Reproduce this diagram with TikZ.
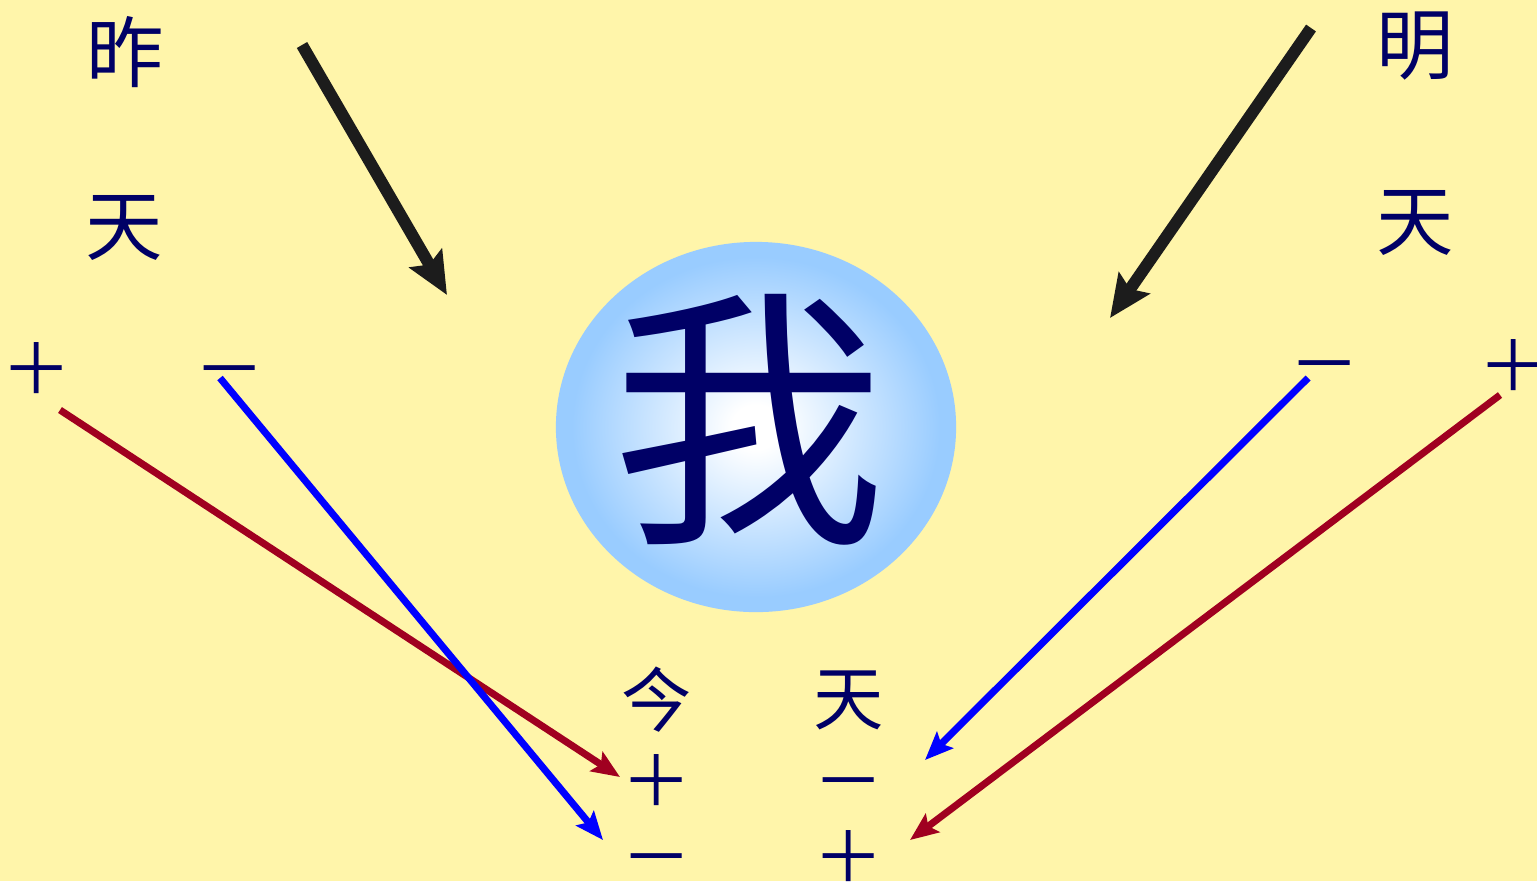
\documentclass[tikz,border=0pt]{standalone}
\usepackage{fontspec}
\newfontfamily\cjk{Noto Sans CJK SC}
\usepackage{tikz}
\usetikzlibrary{arrows.meta,shapes.geometric}
\definecolor{paper}{HTML}{FFF5AA}
\definecolor{ink}{HTML}{000066}
\definecolor{sky}{HTML}{99CCFF}
\definecolor{wine}{HTML}{A00020}
\definecolor{pureblue}{HTML}{0000FF}
\definecolor{coal}{HTML}{1C1C1C}
\pgfdeclareradialshading{ballshade}{\pgfpoint{0bp}{0bp}}{color(0bp)=(white);
color(3bp)=(white); color(23bp)=(sky); color(50bp)=(sky)}

\begin{document}
\begin{tikzpicture}[
x=0.01cm,y=-0.01cm,
word/.style={text=ink,inner sep=0pt,font=\cjk\fontsize{22}{24}\selectfont},
small/.style={text=ink,inner sep=0pt,font=\cjk\fontsize{20}{22}\selectfont},
sign/.style={text=ink,inner sep=0pt,font=\cjk\fontsize{20}{22}\selectfont},
time/.style={-{Stealth[length=12pt,width=10.5pt,inset=2pt]},line width=3.4pt,
draw=coal},
plus/.style={-{Stealth[length=8pt,width=6.5pt,inset=1.5pt]},line width=2pt,
draw=wine},
minus/.style={-{Stealth[length=8pt,width=6.5pt,inset=1.5pt]},line width=2pt,
draw=pureblue}
]
\fill[paper] (0,0) rectangle (1537,881);
\useasboundingbox (0,0) rectangle (1537,881);

% the self in the middle
\node[ellipse,shading=ballshade,minimum width=4cm,minimum height=3.7cm,
inner sep=0pt] (me) at (756,427) {};
\node[text=ink,font=\cjk\fontsize{78}{80}\selectfont] (wo) at (749,420) {我};

% yesterday
\node[word] (zuo)  at (125,52)  {昨};
\node[word] (tian1) at (124,228) {天};
\node[sign] (zp) at (37,368)  {＋};
\node[sign] (zm) at (230,380) {－};

% tomorrow
\node[word] (ming) at (1415,46)  {明};
\node[word] (tian2) at (1415,223) {天};
\node[sign] (mm) at (1325,375) {－};
\node[sign] (mp) at (1514,365) {＋};

% today
\node[small] (jin)   at (657,700) {今};
\node[small] (tian3) at (849,700) {天};
\node[sign] (jp) at (657,780) {＋};
\node[sign] (jm) at (657,868) {－};
\node[sign] (tm) at (849,792) {－};
\node[sign] (tp) at (849,856) {＋};

% arrow ends
\coordinate (a1) at (302,45);   \coordinate (b1) at (447,295);
\coordinate (a2) at (1311,28);  \coordinate (b2) at (1110,318);
\coordinate (a3) at (60,410);   \coordinate (b3) at (620,777);
\coordinate (a4) at (220,378);  \coordinate (b4) at (603,840);
\coordinate (a5) at (1308,378); \coordinate (b5) at (925,760);
\coordinate (a6) at (1500,395); \coordinate (b6) at (910,840);

\draw[time] (a1) -- (b1);
\draw[time] (a2) -- (b2);
\draw[plus] (a3) -- (b3);
\draw[minus] (a4) -- (b4);
\draw[minus] (a5) -- (b5);
\draw[plus] (a6) -- (b6);
\end{tikzpicture}
\end{document}
